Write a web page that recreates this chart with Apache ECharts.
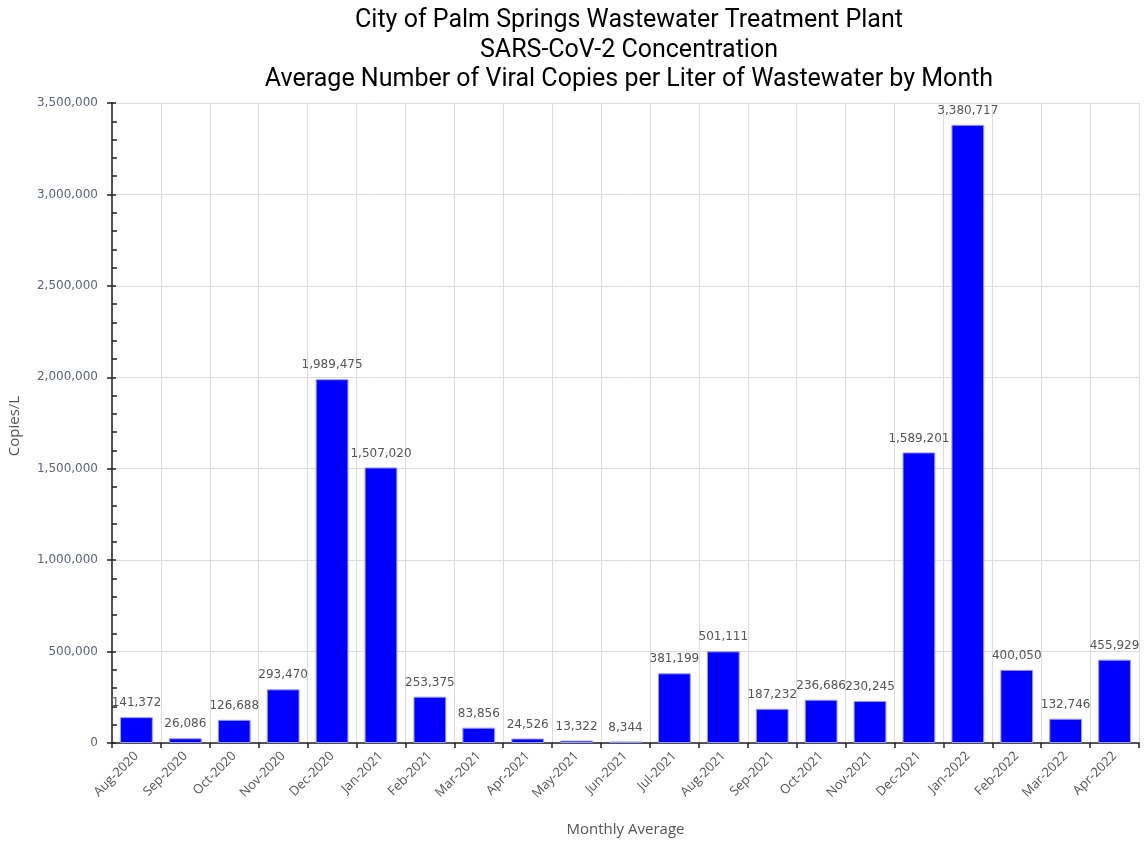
<!DOCTYPE html>
<html>
<head>
<meta charset="utf-8">
<script src="https://cdn.jsdelivr.net/npm/echarts@6/dist/echarts.min.js"></script>
<style>
html,body{margin:0;padding:0;background:#fff;}
#chart{width:1146px;height:841px;}
</style>
</head>
<body>
<div id="chart"></div>
<script>
const titleLines = [
  'City of Palm Springs Wastewater Treatment Plant',
  'SARS-CoV-2 Concentration',
  'Average Number of Viral Copies per Liter of Wastewater by Month'
];
const categories = ['Aug-2020','Sep-2020','Oct-2020','Nov-2020','Dec-2020','Jan-2021','Feb-2021','Mar-2021','Apr-2021','May-2021','Jun-2021','Jul-2021','Aug-2021','Sep-2021','Oct-2021','Nov-2021','Dec-2021','Jan-2022','Feb-2022','Mar-2022','Apr-2022'];
const values = [141372,26086,126688,293470,1989475,1507020,253375,83856,24526,13322,8344,381199,501111,187232,236686,230245,1589201,3380717,400050,132746,455929];
const yTicks = {min:0, max:3500000, interval:500000};
const xName = 'Monthly Average';
const yName = 'Copies/L';

const fmt = v => Number(v).toLocaleString('en-US');
const chart = echarts.init(document.getElementById('chart'), null, {renderer:'canvas'});
chart.setOption({
  animation:false,
  backgroundColor:'#fff',
  title:{
    text: titleLines.join('\n'),
    left: 624, top: 1, textAlign:'center',
    textStyle:{fontFamily:'Roboto', fontSize:25, fontWeight:'normal', color:'#000', lineHeight:29.5}
  },
  grid:{left:112, right:7, top:103, bottom:98, outerBoundsMode:'none', containLabel:false},
  xAxis:{
    type:'category', data:categories,
    name:xName, nameLocation:'middle', nameGap:79,
    nameTextStyle:{fontFamily:'Open Sans', fontSize:15, color:'#555'},
    axisLine:{show:true, lineStyle:{color:'#222', width:1.5}},
    axisTick:{show:true, alignWithLabel:false, length:5, lineStyle:{color:'#222', width:1.5}},
    axisLabel:{rotate:45, interval:0, margin:11, fontFamily:'Open Sans', fontSize:13, color:'#555'},
    splitLine:{show:true, interval:0, lineStyle:{color:'#dcdcdc', width:1}}
  },
  yAxis:[{
    type:'value', min:yTicks.min, max:yTicks.max, interval:yTicks.interval,
    name:yName, nameLocation:'middle', nameGap:90,
    nameTextStyle:{fontFamily:'Open Sans', fontSize:15, color:'#555', padding:[0,6,0,0]},
    axisLine:{show:true, lineStyle:{color:'#555', width:2}},
    axisTick:{show:true, length:5, lineStyle:{color:'#222', width:1.5}},
    axisLabel:{margin:14, fontFamily:'DejaVu Sans', fontSize:12, color:'#5c6478', formatter:fmt},
    splitLine:{show:true, lineStyle:{color:'#dcdcdc', width:1}}
  },{
    type:'value', min:yTicks.min, max:yTicks.max, interval:yTicks.interval,
    position:'left', offset:0,
    axisLine:{show:false},
    axisTick:{show:true, inside:true, length:4, lineStyle:{color:'#222', width:1.5}},
    minorTick:{show:true, splitNumber:5, length:5, lineStyle:{color:'#222', width:1.5}},
    axisLabel:{show:false},
    splitLine:{show:false}
  }],
  series:[{
    type:'bar', data:values, barWidth:'67%',
    itemStyle:{color:'#0000ff', borderColor:'#9a9aff', borderWidth:1},
    label:{show:true, position:'top', distance:8, fontFamily:'DejaVu Sans', fontSize:12, color:'#555', formatter:p=>fmt(p.value)}
  }]
});
</script>
</body>
</html>
